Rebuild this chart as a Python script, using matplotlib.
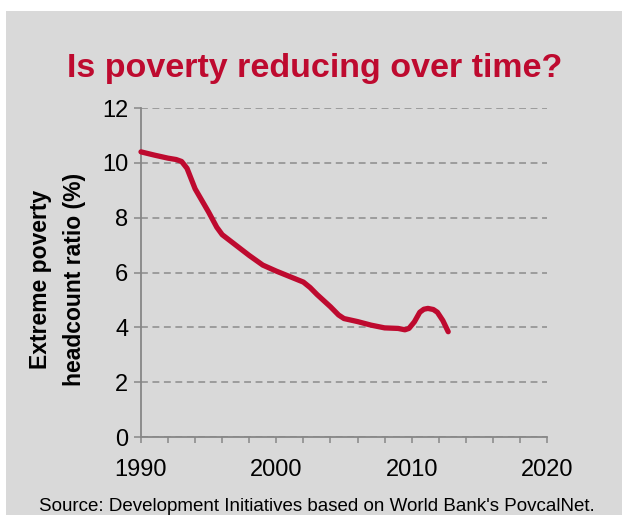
import matplotlib
matplotlib.use("Agg")
import matplotlib.pyplot as plt
from matplotlib.patches import Rectangle
from matplotlib.ticker import MultipleLocator

years = [1990, 1991, 1992, 1992.6, 1993, 1993.4, 1994, 1995, 1995.6, 1996, 1997, 1998,
         1999, 2000, 2001, 2002, 2002.5, 2003, 2004, 2004.6, 2005, 2006, 2007, 2008,
         2009, 2009.5, 2009.8, 2010.2, 2010.6, 2010.9, 2011.2, 2011.6, 2011.9, 2012.3,
         2012.7]
poverty = [10.40, 10.28, 10.17, 10.12, 10.05, 9.8, 9.05, 8.2, 7.65, 7.38, 7.0, 6.62,
           6.27, 6.05, 5.85, 5.65, 5.45, 5.2, 4.75, 4.45, 4.32, 4.21, 4.08, 3.98,
           3.96, 3.91, 3.96, 4.2, 4.55, 4.66, 4.69, 4.65, 4.55, 4.25, 3.84]
x_ticks = [1990, 2000, 2010, 2020]
y_ticks = [0, 2, 4, 6, 8, 10, 12]

title = "Is poverty reducing over time?"
ylabel = "Extreme poverty\nheadcount ratio (%)"
source = "Source: Development Initiatives based on World Bank's PovcalNet."

RED = "#be0a2f"
BG = "#d9d9d9"
AXC = "#878787"
GRID = "#8c8c8c"

plt.rcParams['font.family'] = ['Liberation Sans', 'DejaVu Sans']

W, H = 622, 515
fig = plt.figure(figsize=(W / 100, H / 100), dpi=100)
fig.patch.set_facecolor("white")
fig.patches.append(Rectangle((6 / W, 0), 1 - 6 / W, 1 - 11 / H, transform=fig.transFigure,
                             facecolor=BG, edgecolor="none", zorder=-10))

ax = fig.add_axes([141 / W, 1 - 437 / H, (547 - 141) / W, (437 - 108) / H])
ax.set_facecolor("none")
ax.set_zorder(5)

ax.plot(years, poverty, color=RED, lw=3.8, solid_capstyle="round",
        solid_joinstyle="round", zorder=3, clip_on=False)

ax.set_xlim(1990, 2020)
ax.set_ylim(0, 12)
ax.set_xticks(x_ticks)
ax.xaxis.set_minor_locator(MultipleLocator(2))
ax.set_yticks(y_ticks)

for s in ["top", "right"]:
    ax.spines[s].set_visible(False)
for s in ["left", "bottom"]:
    ax.spines[s].set_color(AXC)
    ax.spines[s].set_linewidth(1.3)

ax.tick_params(axis="x", which="both", direction="out", length=4.5, width=1.1,
               color=AXC, labelsize=17, pad=11)
ax.tick_params(axis="y", which="both", direction="out", length=5, width=1.1,
               color=AXC, labelsize=17, pad=4)

ax.yaxis.grid(True, color=GRID, linestyle=(0, (4.5, 3)), linewidth=1.1)
ax.set_axisbelow(True)

fig.text(315 / W, 1 - 76.7 / H, title, ha="center", va="baseline",
         fontsize=24.5, fontweight="bold", color=RED)

fig.text(57.5 / W, 1 - 279 / H, ylabel, ha="center", va="center", rotation=90,
         multialignment="center", fontsize=16.5, fontweight="bold", color="black",
         linespacing=1.6)

fig.text(316.5 / W, 1 - 511 / H, source, ha="center", va="baseline",
         fontsize=13.5, color="black")

fig.savefig("out.png", dpi=100, facecolor=fig.get_facecolor())
